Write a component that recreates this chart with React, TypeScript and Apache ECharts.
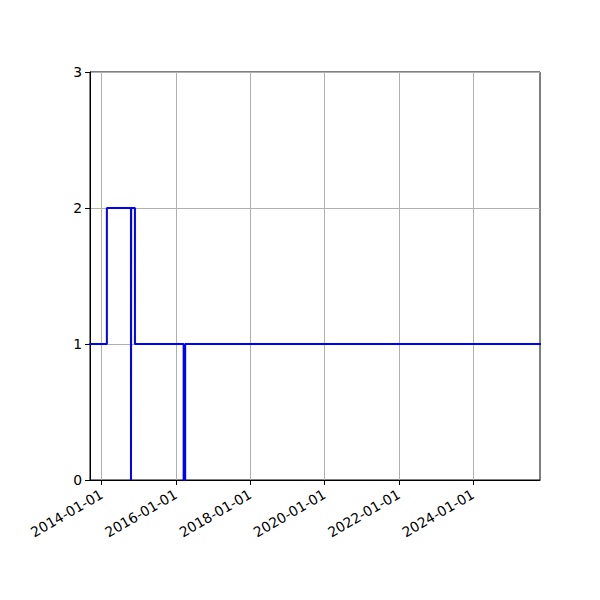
import React, { useEffect, useRef } from "react";
import * as echarts from "echarts";

// step series: value holds from each date until the next one
const dates = [
  "2013-09-01",
  "2014-02-21",
  "2014-10-16",
  "2014-10-18",
  "2014-11-24",
  "2016-03-17",
  "2016-04-01",
  "2025-12-31",
];
const counts = [1, 2, 0, 2, 1, 0, 1, 1];

const tickDates = [
  "2014-01-01",
  "2016-01-01",
  "2018-01-01",
  "2020-01-01",
  "2022-01-01",
  "2024-01-01",
];
const yTicks = [0, 1, 2, 3];

const xMin = "2013-09-08";
const xMax = "2025-10-21";

const ts = (d: string) => new Date(d + "T00:00:00Z").getTime();

const fmt = (v: number) => {
  const d = new Date(v);
  const p = (n: number) => String(n).padStart(2, "0");
  return `${d.getUTCFullYear()}-${p(d.getUTCMonth() + 1)}-${p(d.getUTCDate())}`;
};

const App: React.FC = () => {
  const chartRef = useRef<HTMLDivElement>(null);

  useEffect(() => {
    document.body.style.margin = "0";
    if (!chartRef.current) return;
    const chart = echarts.init(chartRef.current, undefined, { renderer: "svg" });

    const font = { fontFamily: "DejaVu Sans", fontSize: 13.9, color: "#000" };
    const tickVals = tickDates.map(ts);

    chart.setOption({
      animation: false,
      grid: {
        left: 90,
        right: 60,
        top: 72,
        bottom: 120,
        show: true,
        borderColor: "#000",
        borderWidth: 1,
        backgroundColor: "transparent",
      },
      xAxis: {
        type: "value",
        min: ts(xMin),
        max: ts(xMax),
        axisLine: { show: true, lineStyle: { color: "#000", width: 1 } },
        axisTick: {
          show: true,
          length: 5,
          lineStyle: { color: "#000", width: 1 },
          customValues: tickVals,
        },
        axisLabel: {
          ...font,
          rotate: 30,
          margin: 13,
          customValues: tickVals,
          formatter: (v: number) => fmt(v),
        },
        splitLine: { show: true, lineStyle: { color: "#b0b0b0", width: 1 } },
      },
      yAxis: {
        type: "value",
        min: yTicks[0],
        max: yTicks[yTicks.length - 1],
        interval: 1,
        axisLine: { show: true, lineStyle: { color: "#000", width: 1 } },
        axisTick: { show: true, length: 5, lineStyle: { color: "#000", width: 1 } },
        axisLabel: { ...font, margin: 8 },
        splitLine: { show: true, lineStyle: { color: "#b0b0b0", width: 1 } },
      },
      series: [
        {
          type: "line",
          step: "end",
          showSymbol: false,
          symbol: "none",
          clip: true,
          lineStyle: { color: "#0000ff", width: 2 },
          data: dates.map((d, i) => [ts(d), counts[i]]),
        },
      ],
    });

    return () => {
      chart.dispose();
    };
  }, []);

  return <div ref={chartRef} style={{ width: 600, height: 600 }} />;
};

export default App;
